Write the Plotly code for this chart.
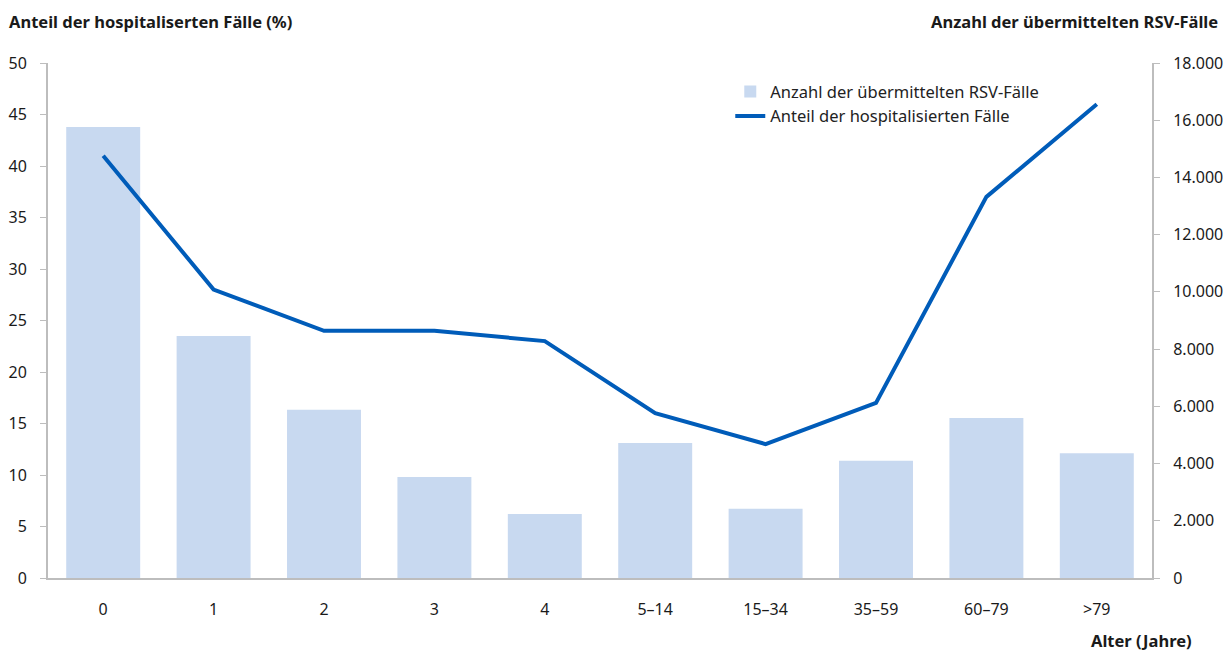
import plotly.graph_objects as go

# Altersgruppen und Werte
age_groups = ["0", "1", "2", "3", "4", "5\u201314", "15\u201334", "35\u201359", "60\u201379", ">79"]
rsv_cases = [15760, 8460, 5880, 3530, 2240, 4720, 2420, 4100, 5590, 4360]
hospitalized_pct = [41, 28, 24, 24, 23, 16, 13, 17, 37, 46]

left_ticks = list(range(0, 51, 5))
right_ticks = list(range(0, 18001, 2000))

FONT = "Noto Sans"
AXIS_GREY = "#bdbdbd"
TEXT = "#1a1a1a"

fig = go.Figure()

# Balken: Anzahl der Fälle (rechte Achse)
fig.add_trace(go.Bar(
    x=age_groups, y=rsv_cases,
    name="Anzahl der übermittelten RSV-Fälle",
    marker=dict(color="#c8d9f0", line=dict(width=0)),
    width=0.67,
    yaxis="y",
))

# Linie: Anteil hospitalisierter Fälle (linke Achse), über den Balken
fig.add_trace(go.Scatter(
    x=age_groups, y=hospitalized_pct,
    name="Anteil der hospitalisierten Fälle",
    mode="lines",
    line=dict(color="#005cb9", width=4),
    yaxis="y2",
))

fig.update_layout(
    width=1223, height=654,
    margin=dict(l=48, r=71, t=63, b=76, autoexpand=False),
    plot_bgcolor="white", paper_bgcolor="white",
    separators=",.",
    font=dict(family=FONT, size=16, color=TEXT),
    showlegend=True,
    legend=dict(
        x=0.618, y=0.978, xanchor="left", yanchor="top",
        bgcolor="rgba(0,0,0,0)",
        font=dict(family=FONT, size=16.5, color="#222"),
        tracegroupgap=0, itemwidth=30,
    ),
    xaxis=dict(
        type="category", range=[-0.5, 9.5], automargin=False,
        showline=True, linecolor=AXIS_GREY, linewidth=2,
        ticks="", showgrid=False, zeroline=False,
        tickfont=dict(family=FONT, size=16, color=TEXT),
        ticklabelstandoff=16,
    ),
    yaxis=dict(
        side="right", range=[0, 18000], automargin=False,
        tickvals=right_ticks, tickformat=",d",
        showline=True, linecolor=AXIS_GREY, linewidth=2,
        ticks="outside", ticklen=6, tickcolor=AXIS_GREY, tickwidth=1,
        showgrid=False, zeroline=False,
        tickfont=dict(family=FONT, size=16, color=TEXT),
        ticklabelstandoff=10,
    ),
    yaxis2=dict(
        side="left", overlaying="y", range=[0, 50], automargin=False,
        tickvals=left_ticks,
        showline=True, linecolor=AXIS_GREY, linewidth=2,
        ticks="outside", ticklen=6, tickcolor=AXIS_GREY, tickwidth=1,
        showgrid=False, zeroline=False,
        tickfont=dict(family=FONT, size=16, color=TEXT),
        ticklabelstandoff=10,
    ),
    annotations=[
        dict(text="<b>Anteil der hospitaliserten Fälle (%)</b>",
             xref="paper", yref="paper", x=-41/1104, y=1 + 41/515,
             xanchor="left", yanchor="middle", showarrow=False,
             font=dict(family=FONT, size=16.5, color=TEXT)),
        dict(text="<b>Anzahl der übermittelten RSV-Fälle</b>",
             xref="paper", yref="paper", x=1 + 68/1104, y=1 + 41/515,
             xanchor="right", yanchor="middle", showarrow=False,
             font=dict(family=FONT, size=16.5, color=TEXT)),
        dict(text="<b>Alter (Jahre)</b>",
             xref="paper", yref="paper", x=1 + 42/1104, y=-62/515,
             xanchor="right", yanchor="middle", showarrow=False,
             font=dict(family=FONT, size=16.5, color=TEXT)),
    ],
)

fig.write_html("out.html")
